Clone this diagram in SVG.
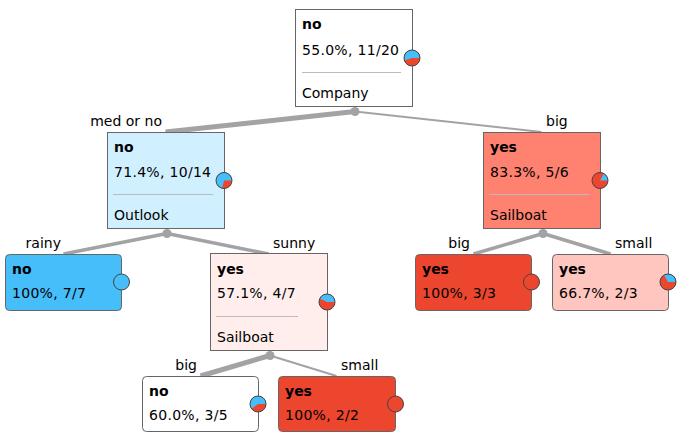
<svg xmlns="http://www.w3.org/2000/svg" width="689" height="447" viewBox="0 0 689 447">
<style>
text{font-family:"DejaVu Sans","Verdana",sans-serif;font-size:14px;fill:#000}
.b{font-weight:bold}
.n{letter-spacing:0.3px}
.box{stroke:#666;stroke-width:1}
.sep{stroke:#bbb;stroke-width:1}
.edge{stroke:#a3a3a6;fill:none;stroke-linecap:butt}
.jn{fill:#a3a3a6}
.pie{fill:none;stroke:#444;stroke-width:1}
.blue{fill:#46befa}
.red{fill:#ed462f}
</style>
<g id="connectors">
<line class="edge" x1="355" y1="111.5" x2="165.5" y2="132" stroke-width="5"/>
<line class="edge" x1="355" y1="111.5" x2="541.5" y2="132" stroke-width="2"/>
<line class="edge" x1="167" y1="233.5" x2="63.5" y2="254" stroke-width="3.5"/>
<line class="edge" x1="167" y1="233.5" x2="268.5" y2="254" stroke-width="3.5"/>
<line class="edge" x1="543" y1="233.5" x2="473.5" y2="254" stroke-width="3.5"/>
<line class="edge" x1="543" y1="233.5" x2="610.5" y2="254" stroke-width="3.5"/>
<line class="edge" x1="270" y1="355.5" x2="200.5" y2="376" stroke-width="5"/>
<line class="edge" x1="270" y1="355.5" x2="336.5" y2="376" stroke-width="2"/>
<circle class="jn" cx="355" cy="111.5" r="4.5"/>
<circle class="jn" cx="167" cy="233.5" r="4.5"/>
<circle class="jn" cx="543" cy="233.5" r="4.5"/>
<circle class="jn" cx="270" cy="355.5" r="4.5"/>
<text x="162" y="126" text-anchor="end">med or no</text>
<text x="546" y="126">big</text>
<text x="61" y="248" text-anchor="end">rainy</text>
<text x="273" y="248">sunny</text>
<text x="470" y="248" text-anchor="end">big</text>
<text x="615" y="248">small</text>
<text x="197" y="370" text-anchor="end">big</text>
<text x="341" y="370">small</text>
</g>
<g id="root">
<rect class="box" x="295.5" y="9.5" width="117" height="97" fill="#ffffff"/>
<text class="b" x="302" y="29">no</text>
<text class="n" x="302" y="55">55.0%, 11/20</text>
<line class="sep" x1="302" y1="72.5" x2="401" y2="72.5"/>
<text x="302" y="98">Company</text>
<circle class="red" cx="412" cy="58" r="8"/>
<path class="blue" d="M412,58 L420,58 A8,8 0 1 0 404.39,60.47 Z"/>
<circle class="pie" cx="412" cy="58" r="8"/>
</g>
<g id="outlook">
<rect class="box" x="107.5" y="132.5" width="117" height="96" fill="#d1f0ff"/>
<text class="b" x="114" y="152">no</text>
<text class="n" x="114" y="177">71.4%, 10/14</text>
<line class="sep" x1="113" y1="194.5" x2="213" y2="194.5"/>
<text x="114" y="220">Outlook</text>
<circle class="red" cx="224" cy="180.5" r="8"/>
<path class="blue" d="M224,180.5 L232,180.5 A8,8 0 1 0 222.22,188.3 Z"/>
<circle class="pie" cx="224" cy="180.5" r="8"/>
</g>
<g id="sailboat1">
<rect class="box" x="483.5" y="132.5" width="117" height="96" fill="#ff8170"/>
<text class="b" x="490" y="152">yes</text>
<text class="n" x="490" y="177">83.3%, 5/6</text>
<line class="sep" x1="489" y1="194.5" x2="589" y2="194.5"/>
<text x="490" y="220">Sailboat</text>
<circle class="red" cx="600" cy="180.5" r="8"/>
<path class="blue" d="M600,180.5 L608,180.5 A8,8 0 0 0 604,173.57 Z"/>
<circle class="pie" cx="600" cy="180.5" r="8"/>
</g>
<g id="rainy">
<rect class="box" x="5.5" y="254.5" width="116" height="56" rx="4" fill="#46befa"/>
<text class="b" x="12" y="274">no</text>
<text class="n" x="12" y="298">100%, 7/7</text>
<circle class="blue" cx="121.5" cy="282" r="8"/>
<circle class="pie" cx="121.5" cy="282" r="8"/>
</g>
<g id="sailboat2">
<rect class="box" x="210.5" y="253.5" width="117" height="97" fill="#ffeeec"/>
<text class="b" x="217" y="274">yes</text>
<text class="n" x="217" y="298">57.1%, 4/7</text>
<line class="sep" x1="216" y1="316.5" x2="298" y2="316.5"/>
<text x="217" y="342">Sailboat</text>
<circle class="red" cx="327" cy="302" r="8"/>
<path class="blue" d="M327,302 L335,302 A8,8 0 0 0 319.79,298.53 Z"/>
<circle class="pie" cx="327" cy="302" r="8"/>
</g>
<g id="big-yes">
<rect class="box" x="415.5" y="254.5" width="116" height="56" rx="4" fill="#ed462f"/>
<text class="b" x="422" y="274">yes</text>
<text class="n" x="422" y="298">100%, 3/3</text>
<circle class="red" cx="531.5" cy="282" r="8"/>
<circle class="pie" cx="531.5" cy="282" r="8"/>
</g>
<g id="small-yes">
<rect class="box" x="552.5" y="254.5" width="116" height="56" rx="4" fill="#ffc6bf"/>
<text class="b" x="559" y="274">yes</text>
<text class="n" x="559" y="298">66.7%, 2/3</text>
<circle class="red" cx="668" cy="282" r="8"/>
<path class="blue" d="M668,282 L676,282 A8,8 0 0 0 664,275.07 Z"/>
<circle class="pie" cx="668" cy="282" r="8"/>
</g>
<g id="big-no">
<rect class="box" x="142.5" y="376.5" width="116" height="55" rx="4" fill="#ffffff"/>
<text class="b" x="149" y="396">no</text>
<text class="n" x="149" y="420">60.0%, 3/5</text>
<circle class="red" cx="258" cy="404" r="8"/>
<path class="blue" d="M258,404 L266,404 A8,8 0 1 0 251.53,408.7 Z"/>
<circle class="pie" cx="258" cy="404" r="8"/>
</g>
<g id="small-yes2">
<rect class="box" x="278.5" y="376.5" width="117" height="55" rx="4" fill="#ed462f"/>
<text class="b" x="285" y="396">yes</text>
<text class="n" x="285" y="420">100%, 2/2</text>
<circle class="red" cx="395.5" cy="404" r="8"/>
<circle class="pie" cx="395.5" cy="404" r="8"/>
</g>
</svg>
